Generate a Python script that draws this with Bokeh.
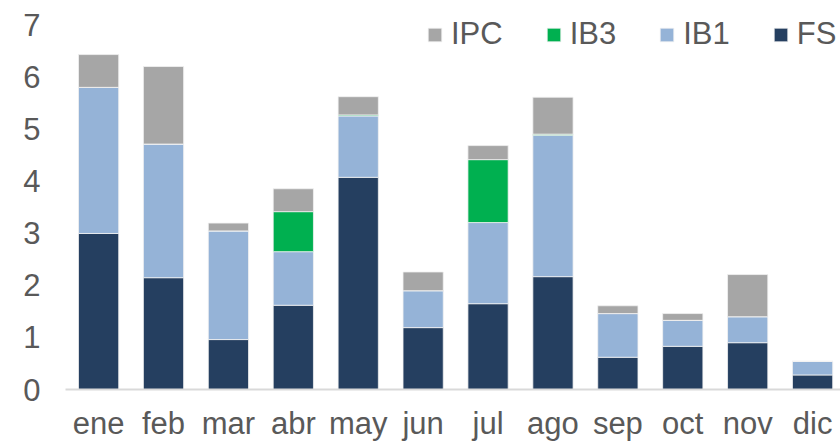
from bokeh.plotting import figure
from bokeh.models import Range1d, FixedTicker, Legend, LegendItem
from bokeh.embed import file_html
from bokeh.resources import INLINE

months = ["ene", "feb", "mar", "abr", "may", "jun", "jul", "ago", "sep", "oct", "nov", "dic"]
FS  = [3.00, 2.15, 0.96, 1.62, 4.08, 1.19, 1.65, 2.17, 0.62, 0.83, 0.90, 0.28]
IB1 = [2.81, 2.57, 2.09, 1.03, 1.18, 0.71, 1.56, 2.72, 0.84, 0.50, 0.50, 0.26]
IB3 = [0.00, 0.00, 0.00, 0.77, 0.02, 0.00, 1.21, 0.02, 0.00, 0.00, 0.00, 0.00]
IPC = [0.63, 1.49, 0.15, 0.44, 0.35, 0.36, 0.27, 0.71, 0.15, 0.13, 0.81, 0.00]

series = ["FS", "IB1", "IB3", "IPC"]
colors = ["#253F60", "#95B3D7", "#00B050", "#A6A6A6"]

x = [i + 0.5 for i in range(len(months))]
data = dict(x=x, FS=FS, IB1=IB1, IB3=IB3, IPC=IPC)

FONT = "Liberation Sans"
TXT = "#595959"
FSIZE = "31px"

p = figure(width=840, height=443, output_backend="svg", toolbar_location=None,
           x_range=Range1d(-0.01, 11.93), y_range=Range1d(0, 7.48),
           min_border_left=65, min_border_right=0, min_border_top=0, min_border_bottom=54)
p.outline_line_color = None
p.xgrid.visible = False
p.ygrid.visible = False

renderers = p.vbar_stack(series, x="x", width=0.62, source=data, color=colors,
                         line_color="#F2F2F2", line_width=0.8)

p.yaxis.ticker = FixedTicker(ticks=list(range(0, 8)))
p.yaxis.axis_line_color = None
p.yaxis.major_tick_line_color = None
p.yaxis.minor_tick_line_color = None
p.yaxis.major_label_text_font = FONT
p.yaxis.major_label_text_font_size = FSIZE
p.yaxis.major_label_text_color = TXT
p.yaxis.major_label_standoff = 19

p.xaxis.ticker = FixedTicker(ticks=x)
p.xaxis.major_label_overrides = {xx: m for xx, m in zip(x, months)}
p.xaxis.axis_line_color = "#D9D9D9"
p.xaxis.axis_line_width = 2
p.xaxis.major_tick_line_color = None
p.xaxis.minor_tick_line_color = None
p.xaxis.major_label_text_font = FONT
p.xaxis.major_label_text_font_size = FSIZE
p.xaxis.major_label_text_color = TXT
p.xaxis.major_label_text_line_height = 1.0
p.xaxis.major_label_standoff = 10

rmap = dict(zip(series, renderers))
items = [LegendItem(label=s, renderers=[rmap[s]]) for s in ["IPC", "IB3", "IB1", "FS"]]
legend = Legend(items=items, orientation="horizontal", location=(361, 337),
                padding=0, margin=0, spacing=42, label_standoff=8,
                glyph_width=17, glyph_height=17,
                label_text_font=FONT, label_text_font_size=FSIZE, label_text_color=TXT,
                border_line_color=None, background_fill_alpha=0)
p.add_layout(legend)

open("out.html", "w").write(file_html(p, INLINE))
